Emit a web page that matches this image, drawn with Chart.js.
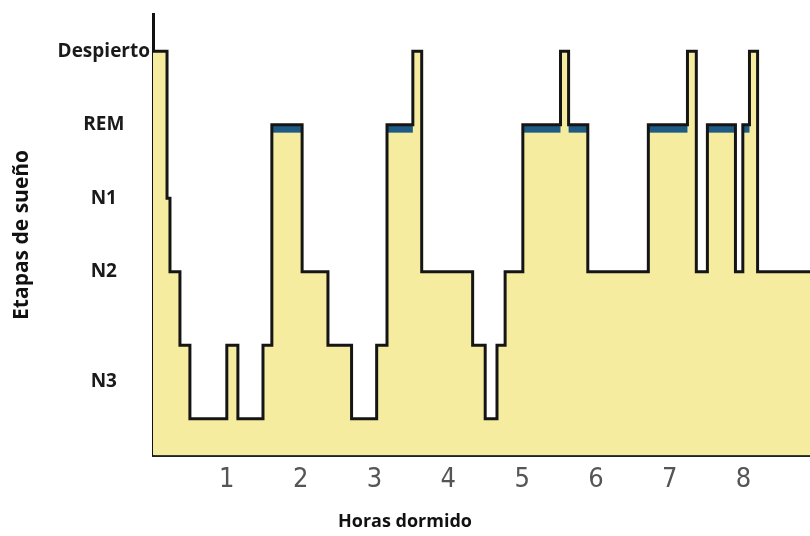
<!DOCTYPE html>
<html>
<head>
<meta charset="utf-8">
<script src="https://cdn.jsdelivr.net/npm/chart.js@4.4.1/dist/chart.umd.min.js"></script>
<style>
  body { margin: 0; background: #fff; }
  #wrap { width: 810px; height: 536px; }
</style>
</head>
<body>
<div id="wrap"><canvas id="hypno" width="810" height="536"></canvas></div>
<script>
// hora de inicio de cada tramo y etapa (5=Despierto, 4=REM, 3=N1, 2=N2, 1/0=N3)
const hours  = [0, 0.19, 0.23, 0.365, 0.50, 1.00, 1.15, 1.49, 1.61, 2.02, 2.37, 2.69, 3.03, 3.17, 3.52, 3.64,
                4.33, 4.50, 4.66, 4.77, 5.01, 5.52, 5.63, 5.89, 6.71, 7.24, 7.36, 7.51, 7.89, 7.99, 8.08, 8.19, 8.9];
const stages = [5, 3, 2, 1, 0, 1, 0, 1, 4, 2, 1, 0, 1, 4, 5, 2,
                1, 0, 1, 2, 4, 5, 4, 2, 4, 5, 2, 4, 2, 4, 5, 2, 2];
const hourTicks  = [1, 2, 3, 4, 5, 6, 7, 8];
const stageTicks = [5, 4, 3, 2, 0.5];
const stageNames = ["Despierto", "REM", "N1", "N2", "N3"];
const REM = 4;

let points = hours.map((h, i) => ({x: h, y: stages[i]}));

// franja azul bajo los tramos REM
const remBands = {
  id: "remBands",
  afterDatasetDraw(chart, args) {
    if (args.index !== 1) return;
    const ctx = chart.ctx, xs = chart.scales.x, ys = chart.scales.y;
    ctx.save();
    ctx.fillStyle = "#1d5b85";
    for (let i = 0; i < stages.length - 1; i++) {
      if (stages[i] !== REM) continue;
      let x0 = xs.getPixelForValue(hours[i]);
      let x1 = xs.getPixelForValue(hours[i + 1]);
      let y0 = ys.getPixelForValue(REM);
      ctx.fillRect(x0, y0 + 1, x1 - x0, 7);
    }
    ctx.restore();
  }
};

new Chart(document.getElementById("hypno").getContext("2d"), {
  type: "line",
  data: {
    datasets: [{
      data: points,
      stepped: true,
      fill: false,
      borderColor: "#151515",
      borderWidth: 3,
      borderJoinStyle: "miter",
      pointRadius: 0
    }, {
      data: points,
      stepped: true,
      fill: "start",
      backgroundColor: "#f5eca0",
      borderWidth: 0,
      pointRadius: 0
    }]
  },
  options: {
    responsive: false,
    animation: false,
    layout: { padding: { top: 12, right: 0, bottom: 0, left: 0 } },
    plugins: {
      legend: { display: false },
      tooltip: { enabled: false },
      title: {
        display: true,
        position: "bottom",
        text: "Horas dormido",
        color: "#111",
        font: { family: "'Open Sans', sans-serif", size: 18, weight: "bold" },
        padding: { top: 0, bottom: 3 }
      }
    },
    scales: {
      x: {
        type: "linear",
        min: 0,
        max: 8.9,
        afterBuildTicks: s => { s.ticks = hourTicks.map(v => ({value: v})); },
        afterFit: s => { s.height = 56; },
        grid: { display: false, drawTicks: false },
        border: { display: true, color: "#222", width: 3 },
        ticks: {
          color: "#555",
          padding: 8,
          font: { family: "'Liberation Sans Narrow', 'DejaVu Sans Condensed', sans-serif", size: 27 }
        }
      },
      y: {
        type: "linear",
        min: -0.5,
        max: 5.5,
        afterBuildTicks: s => { s.ticks = stageTicks.map(v => ({value: v})); },
        afterFit: s => { s.width = 153; },
        grid: { display: false, drawTicks: false },
        border: { display: true, color: "#111", width: 3 },
        title: {
          display: true,
          text: "Etapas de sueño",
          color: "#111",
          font: { family: "'Open Sans', sans-serif", size: 21, weight: "bold" },
          padding: { top: 9, bottom: 0 }
        },
        ticks: {
          color: "#1a1a1a",
          padding: 3,
          crossAlign: "center",
          font: { family: "'Open Sans', sans-serif", size: 19, weight: "bold" },
          callback: v => stageNames[stageTicks.indexOf(v)]
        }
      }
    }
  },
  plugins: [remBands]
});
</script>
</body>
</html>
